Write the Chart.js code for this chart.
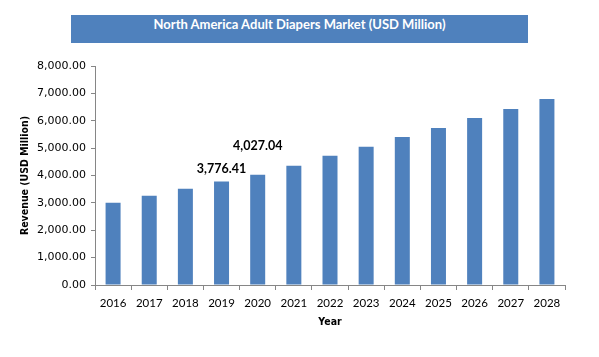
<!DOCTYPE html>
<html>
<head>
<meta charset="utf-8">
<script src="https://cdn.jsdelivr.net/npm/chart.js@4/dist/chart.umd.min.js"></script>
<style>
  html, body { margin: 0; padding: 0; background: #fff; }
  #wrap { position: relative; width: 599px; height: 357px; }
  #c { position: absolute; left: 0; top: 0; }
  #banner {
    position: absolute; left: 71px; top: 15px; width: 457px; height: 28px;
    background: #4F81BD; color: #fff; text-align: center;
    font: bold 13px Lato, "Open Sans", sans-serif; line-height: 19px;
  }
</style>
</head>
<body>
<div id="wrap">
  <canvas id="c" width="599" height="357"></canvas>
  <div id="banner">North America Adult Diapers Market (USD Million)</div>
</div>
<script>
const years = ['2016','2017','2018','2019','2020','2021','2022','2023','2024','2025','2026','2027','2028'];
const revenue = [3003, 3258, 3514, 3776.41, 4027.04, 4353, 4717, 5046, 5410, 5739, 6103, 6432, 6796];
const labelledYears = ['2019', '2020'];
const yMin = 0, yMax = 8000, yStep = 1000;

const fmt = v => v.toLocaleString('en-US', {minimumFractionDigits: 2, maximumFractionDigits: 2});

const valueLabels = {
  id: 'valueLabels',
  afterDatasetsDraw(chart) {
    const {ctx, scales: {x, y}} = chart;
    const lift = {'2019': 13, '2020': 29};
    ctx.save();
    ctx.font = 'bold 12.5px Lato, "Open Sans", sans-serif';
    ctx.fillStyle = '#000';
    ctx.textAlign = 'center';
    ctx.textBaseline = 'middle';
    labelledYears.forEach(yr => {
      const i = years.indexOf(yr);
      const px = x.getPixelForValue(i);
      const py = y.getPixelForValue(revenue[i]) - lift[yr];
      ctx.fillText(fmt(revenue[i]), px, py);
    });
    ctx.restore();
  }
};

new Chart(document.getElementById('c'), {
  type: 'bar',
  data: {
    labels: years,
    datasets: [{
      data: revenue,
      backgroundColor: '#4F81BD',
      borderWidth: 0,
      categoryPercentage: 1,
      barPercentage: 0.415
    }]
  },
  options: {
    responsive: false,
    animation: false,
    events: [],
    layout: { padding: { left: 0, right: 34, top: 66, bottom: 0 } },
    plugins: { legend: { display: false }, tooltip: { enabled: false }, title: { display: false } },
    scales: {
      x: {
        grid: { display: true, drawOnChartArea: false, drawTicks: true, tickLength: 5, color: '#868686', offset: true },
        border: { color: '#868686' },
        ticks: { font: { family: 'Lato, "Open Sans", sans-serif', size: 11.5 }, color: '#000', padding: 6, maxRotation: 0, autoSkip: false },
        title: { display: true, text: 'Year', color: '#000',
                 font: { family: '"DejaVu Sans Condensed", "DejaVu Sans", sans-serif', size: 10.5, weight: 'bold' },
                 padding: { top: 0, bottom: 28 } },
        afterFit(s) { s.height = 72; }
      },
      y: {
        min: yMin, max: yMax,
        grid: { display: true, drawOnChartArea: false, drawTicks: true, tickLength: 4, color: '#868686' },
        border: { color: '#868686' },
        ticks: { stepSize: yStep, font: { family: '"DejaVu Sans", sans-serif', size: 11 }, color: '#000', padding: 5,
                 callback: v => fmt(v) },
        title: { display: true, text: 'Revenue (USD Million)', color: '#000',
                 font: { family: '"DejaVu Sans Condensed", "DejaVu Sans", sans-serif', size: 10.5, weight: 'bold' },
                 padding: { top: 19, bottom: 0 } },
        afterFit(s) { s.width = 95; }
      }
    }
  },
  plugins: [valueLabels]
});
</script>
</body>
</html>
